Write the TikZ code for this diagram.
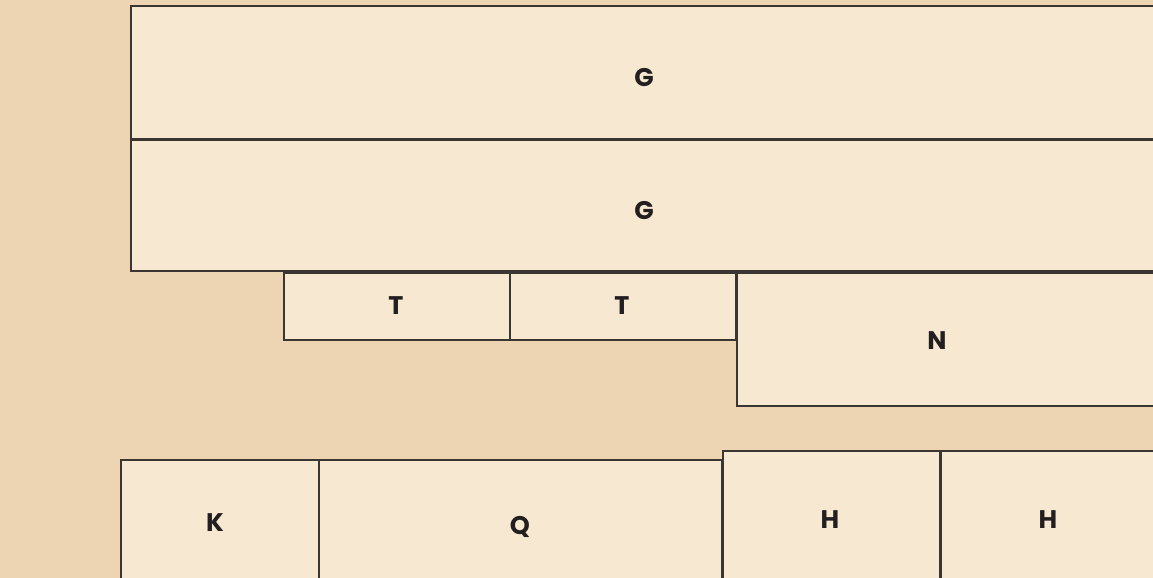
\documentclass[tikz,border=0pt]{standalone}
\usepackage{fontspec}
\setmainfont{Poppins}
\definecolor{floor}{HTML}{EDD5B3}
\definecolor{room}{HTML}{F7E9D1}
\definecolor{wall}{HTML}{3B3632}
\definecolor{ink}{HTML}{231F20}
\tikzset{
  room/.style={
    draw=wall,
    fill=room,
    line width=1pt
  },
  tag/.style={
    text=ink,
    font=\bfseries\fontsize{14.5}{14.5}\selectfont,
    inner sep=0pt
  }
}
\begin{document}
\begin{tikzpicture}[x=0.02cm,y=-0.02cm]
    \useasboundingbox (0,0) rectangle (1153,578);
    \clip (0,0) rectangle (1153,578);
    \fill[floor] (0,0) rectangle (1153,578);
    % upper block
    \draw[room] (131,6) rectangle (1165,139);
    \draw[room] (131,140) rectangle (1165,271);
    \node[tag] (g1) at (644,78) {G};
    \node[tag] (g2) at (644,211) {G};
    \foreach \x/\n in {284/1,510/2}{
        \draw[room] (\x,273) rectangle ++(226,67);
    }
    \node[tag] (t1) at (396,306) {T};
    \node[tag] (t2) at (622,306) {T};
    \draw[room] (737,273) rectangle (1165,406);
    \node[tag] (n) at (937,341) {N};
    % lower block
    \draw[room] (121,460) rectangle (319,590);
    \draw[room] (319,460) rectangle (722,590);
    \draw[room] (723,451) rectangle (940,590);
    \draw[room] (941,451) rectangle (1165,590);
    \node[tag] (k) at (215,523) {K};
    \node[tag] (q) at (520,527) {Q};
    \node[tag] (h1) at (830,520) {H};
    \node[tag] (h2) at (1048,520) {H};
\end{tikzpicture}
\end{document}
